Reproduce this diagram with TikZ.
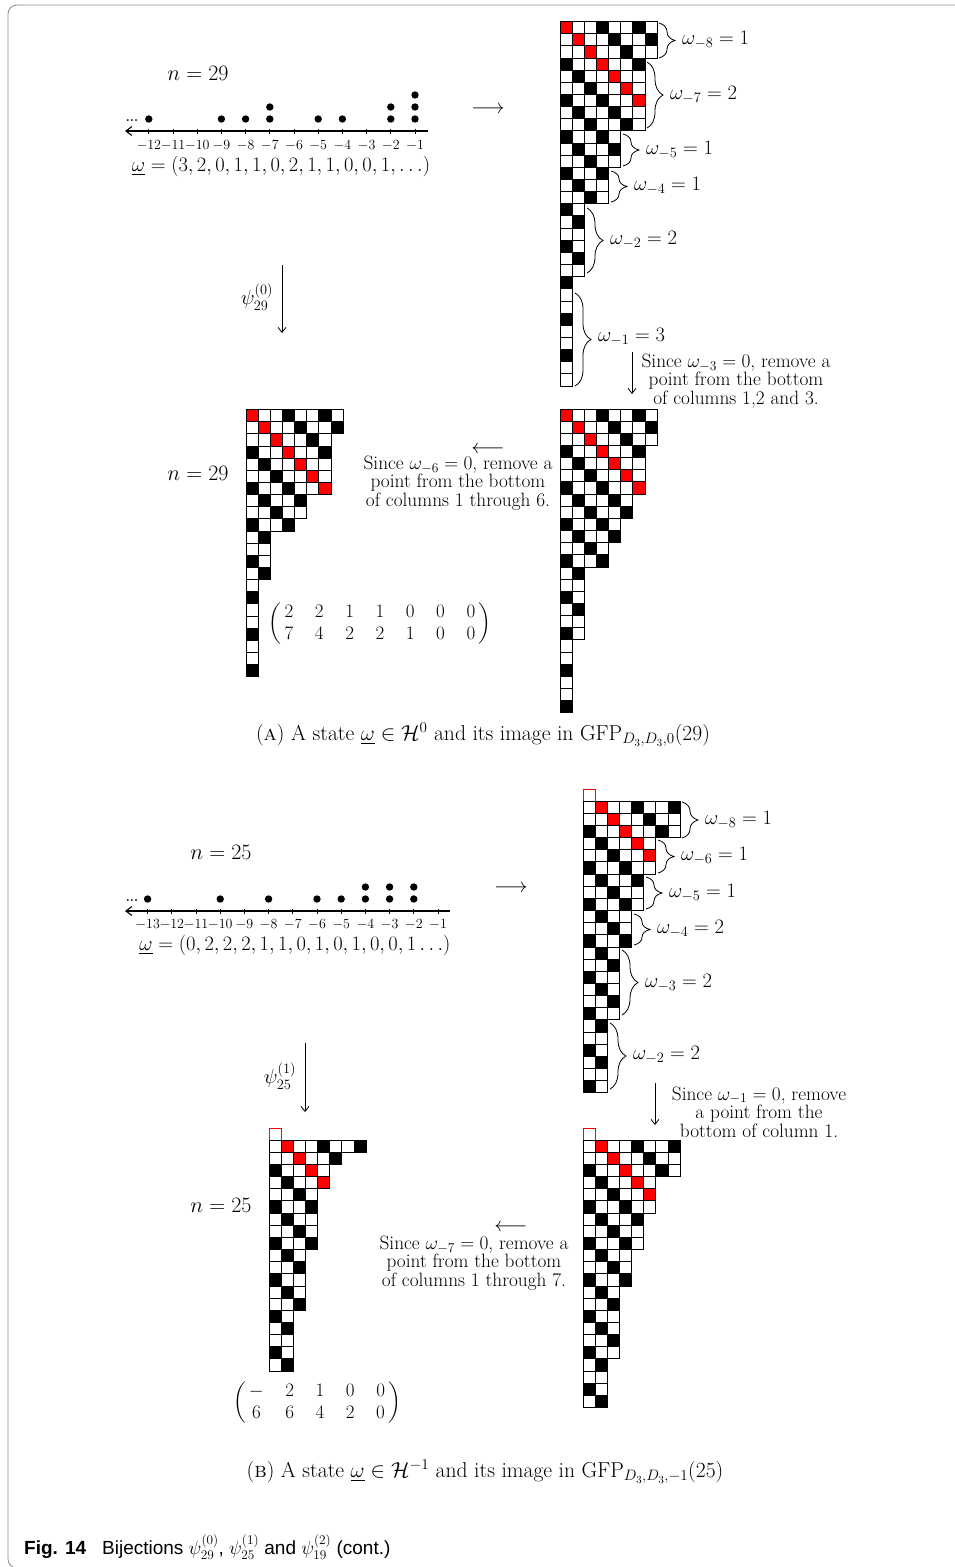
\RequirePackage{fix-cm}
\documentclass[tikz,border=0pt]{standalone}
\usepackage{amsmath}
\usepackage{fontspec}
\newfontfamily\capfont{Liberation Sans}
\usetikzlibrary{decorations.pathreplacing,arrows.meta}

\def\cs{12.15}
\newcommand\cellgrid[4]{%
  \foreach \len [count=\rr] in {#3} {
    \foreach \cc in {1,...,\len} {
      \pgfmathtruncatemacro\dd{mod(\cc-\rr+300,3)}
      \ifnum\cc=\rr
        \ifnum\rr=1 \ifnum#4=1 \def\fc{white}\def\dc{red}\else\def\fc{red}\def\dc{black}\fi
        \else \def\fc{red}\def\dc{black}\fi
      \else
        \ifnum\dd=0 \def\fc{black}\else\def\fc{white}\fi\def\dc{black}
      \fi
      \draw[draw=\dc, fill=\fc, cellline] ({#1+(\cc-1)*\cs}, {#2+(\rr-1)*\cs}) rectangle ++(\cs,\cs);
    }
  }
}

\tikzset{
  mt/.style={font=\fontsize{19.3}{18.6}\selectfont, inner sep=0pt},
  mm/.style={font=\fontsize{20.5}{20}\selectfont, inner sep=0pt},
  nn/.style={font=\fontsize{22}{22}\selectfont, inner sep=0pt},
  captxt/.style={font=\fontsize{21.6}{22}\selectfont, inner sep=0pt},
  tk/.style={font=\fontsize{14}{14}\selectfont, inner sep=0pt},
  cellline/.style={line width=0.9pt},
  brc/.style={decorate, decoration={brace, amplitude=16pt}, line width=0.8pt},
  arr/.style={line width=0.8pt, -{Straight Barb[length=5pt,width=8pt]}},
  axis/.style={line width=1.1pt, -{Straight Barb[length=6pt,width=9pt]}},
  tickmark/.style={line width=0.9pt},
  lbl/.style={mm, anchor=west},
  dot/.style={fill=black},
}

\begin{document}
\begin{tikzpicture}[x=1pt,y=-1pt]
\useasboundingbox (0,0) rectangle (955,1567);
\fill[white] (0,0) rectangle (955,1567);
\draw[black!45, line width=0.8pt, rounded corners=9pt] (955,5) -- (8,5) -- (8,1568) -- (60,1568);

% ================= PART A =================
\node[nn] (nA1) at (198,73) {$n=29$};
\coordinate (axAr) at (428,131);
\coordinate (axAl) at (125,131);
\draw[axis] (axAr) -- (axAl);
\node[font=\bfseries\fontsize{13}{13}\selectfont, inner sep=0pt] (ellA) at (132,121) {...};
\foreach \k in {1,...,12} {
  \draw[tickmark] ({415-(\k-1)*24.2},128.5) -- ({415-(\k-1)*24.2},133.5);
  \node[tk] (tA\k) at ({415-(\k-1)*24.2},146) {$-\k$};
}
\foreach \k/\m in {1/3,2/2,4/1,5/1,7/2,8/1,9/1,12/1}
  \foreach \j in {1,...,\m} \fill[dot] ({415-(\k-1)*24.2},{131-12*\j}) circle (3.7pt);
\node[mm] (omA) at (281,166) {$\underline{\omega}=(3,2,0,1,1,0,2,1,1,0,0,1,\ldots)$};
\node[mm] (lrA) at (488,110) {$\longrightarrow$};

\node[mm] (psiA) at (257,297) {$\psi^{(0)}_{29}$};
\coordinate (psiAt) at (282,265);
\coordinate (psiAb) at (282,333);
\draw[arr] (psiAt) -- (psiAb);

% grid A1
\cellgrid{560}{21.5}{8,8,8,7,7,7,7,7,7,5,5,5,4,4,4,2,2,2,2,2,2,1,1,1,1,1,1,1,1,1}{0}
\draw[brc] (659,23) -- (659,58);   \node[lbl] (wA8) at (682,40) {$\omega_{-8}=1$};
\draw[brc] (647,62) -- (647,128);  \node[lbl] (wA7) at (670,95) {$\omega_{-7}=2$};
\draw[brc] (623,134) -- (623,166); \node[lbl] (wA5) at (646,150) {$\omega_{-5}=1$};
\draw[brc] (611,171) -- (611,202); \node[lbl] (wA4) at (634,186) {$\omega_{-4}=1$};
\draw[brc] (587,208) -- (587,273); \node[lbl] (wA2) at (610,240) {$\omega_{-2}=2$};
\draw[brc] (575,293) -- (575,386); \node[lbl] (wA1) at (598,337) {$\omega_{-1}=3$};

\coordinate (dA1t) at (632,352);
\coordinate (dA1b) at (632,394);
\draw[arr] (dA1t) -- (dA1b);
\node[mt, align=center] (txA1) at (736,381) {Since $\omega_{-3}=0$, remove a\\point from the bottom\\of columns 1,2 and 3.};

% grid A3 (right)
\cellgrid{560}{409}{8,8,8,7,7,7,7,6,6,5,5,4,4,2,2,2,2,2,2,1,1,1,1,1,1}{0}
\node[mm] (llA) at (488,450) {$\longleftarrow$};
\node[mt, align=center] (txA2) at (458,483) {Since $\omega_{-6}=0$, remove a\\point from the bottom\\of columns 1 through 6.};

% grid A2 (left)
\node[nn] (nA2) at (198,473) {$n=29$};
\cellgrid{246}{409.5}{8,8,7,7,7,7,7,5,5,4,2,2,2,2,1,1,1,1,1,1,1,1}{0}
\node[font=\fontsize{19}{19}\selectfont, inner sep=0pt] (matA) at (380,624) {$\setlength\arraycolsep{10.8pt}\renewcommand\arraystretch{1.2}\left(\begin{array}{@{\,}ccccccc@{\,}} 2&2&1&1&0&0&0\\ 7&4&2&2&1&0&0\end{array}\right)$};

\node[captxt] (capA) at (483,735) {(\textsc{a}) A state $\underline{\omega}\in\mathcal{H}^0$ and its image in $\mathrm{GFP}_{D_3,D_3,0}(29)$};

% ================= PART B =================
\node[nn] (nB1) at (221,852) {$n=25$};
\coordinate (axBr) at (450,911);
\coordinate (axBl) at (125,911);
\draw[axis] (axBr) -- (axBl);
\node[font=\bfseries\fontsize{13}{13}\selectfont, inner sep=0pt] (ellB) at (132,901) {...};
\foreach \k in {1,...,13} {
  \draw[tickmark] ({438-(\k-1)*24.2},908.5) -- ({438-(\k-1)*24.2},913.5);
  \node[tk] (tB\k) at ({438-(\k-1)*24.2},925) {$-\k$};
}
\foreach \k/\m in {2/2,3/2,4/2,5/1,6/1,8/1,10/1,13/1}
  \foreach \j in {1,...,\m} \fill[dot] ({438-(\k-1)*24.2},{911-12*\j}) circle (3.7pt);
\node[mm] (omB) at (295,945) {$\underline{\omega}=(0,2,2,2,1,1,0,1,0,1,0,0,1\ldots)$};
\node[mm] (lrB) at (511,889) {$\longrightarrow$};

\node[mm] (psiB) at (280,1076) {$\psi^{(1)}_{25}$};
\coordinate (psiBt) at (305,1043);
\coordinate (psiBb) at (305,1112);
\draw[arr] (psiBt) -- (psiBb);

% grid B1
\cellgrid{583}{789}{1,8,8,8,6,6,6,5,5,5,4,4,4,3,3,3,3,3,3,2,2,2,2,2,2}{1}
\draw[brc] (682,802) -- (682,838);   \node[lbl] (wB8) at (705,820) {$\omega_{-8}=1$};
\draw[brc] (658,840) -- (658,873);   \node[lbl] (wB6) at (681,856) {$\omega_{-6}=1$};
\draw[brc] (646,877) -- (646,909);   \node[lbl] (wB5) at (669,893) {$\omega_{-5}=1$};
\draw[brc] (634,914) -- (634,945);   \node[lbl] (wB4) at (657,929) {$\omega_{-4}=2$};
\draw[brc] (622,950) -- (622,1015);  \node[lbl] (wB3) at (645,983) {$\omega_{-3}=2$};
\draw[brc] (610,1023) -- (610,1089); \node[lbl] (wB2) at (633,1055) {$\omega_{-2}=2$};

\coordinate (dB1t) at (655,1083);
\coordinate (dB1b) at (655,1125);
\draw[arr] (dB1t) -- (dB1b);
\node[mt, align=center] (txB1) at (759,1112) {Since $\omega_{-1}=0$, remove\\a point from the\\bottom of column 1.};

% grid B3 (right)
\cellgrid{583}{1128}{1,8,8,8,6,6,6,5,5,5,4,4,4,3,3,3,3,3,3,2,2,2,2}{1}
\node[mm] (llB) at (511,1228) {$\longleftarrow$};
\node[mt, align=center] (txB2) at (474,1263) {Since $\omega_{-7}=0$, remove a\\point from the bottom\\of columns 1 through 7.};

% grid B2 (left)
\node[nn] (nB2) at (221,1205) {$n=25$};
\cellgrid{269}{1128}{1,8,6,5,5,4,4,4,4,4,3,3,3,3,3,2,2,2,2,2}{1}
\node[font=\fontsize{19}{19}\selectfont, inner sep=0pt] (matB) at (317,1403) {$\setlength\arraycolsep{10.8pt}\renewcommand\arraystretch{1.2}\left(\begin{array}{@{\,}ccccc@{\,}} -&2&1&0&0\\ 6&6&4&2&0\end{array}\right)$};

\node[captxt] (capB) at (485,1472) {(\textsc{b}) A state $\underline{\omega}\in\mathcal{H}^{-1}$ and its image in $\mathrm{GFP}_{D_3,D_3,-1}(25)$};

% figure caption
\node[anchor=west, inner sep=0pt, font=\capfont\fontsize{19}{19}\selectfont] (figcap) at (24,1547) {\textbf{Fig. 14}\hspace{16pt}Bijections $\psi^{(0)}_{29}$, $\psi^{(1)}_{25}$ and $\psi^{(2)}_{19}$ (cont.)};
\end{tikzpicture}
\end{document}
